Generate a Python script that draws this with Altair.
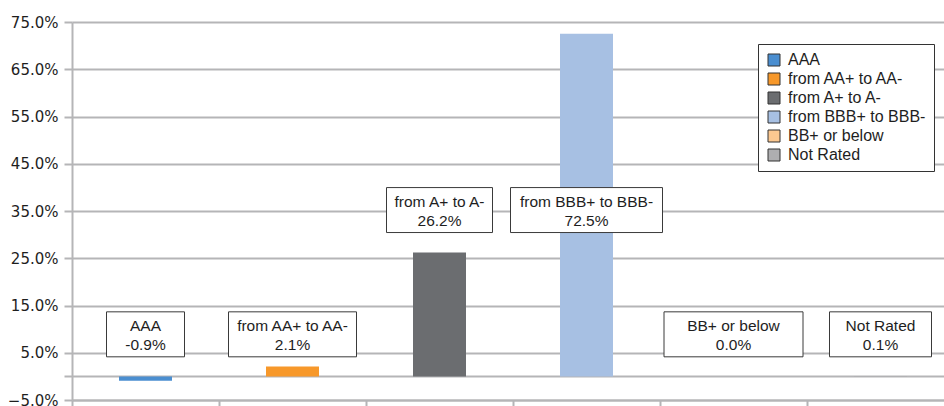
import altair as alt
import pandas as pd

# ---- data ----
categories = ["AAA", "from AA+ to AA-", "from A+ to A-", "from BBB+ to BBB-", "BB+ or below", "Not Rated"]
values = [-0.9, 2.1, 26.2, 72.5, 0.0, 0.1]
value_labels = ["-0.9%", "2.1%", "26.2%", "72.5%", "0.0%", "0.1%"]
y_tick_values = [-5, 0, 5, 15, 25, 35, 45, 55, 65, 75]

# ---- styles ----
colors = ["#4a8ed0", "#f7982a", "#6b6d70", "#a7c0e3", "#fcc890", "#aeaeb0"]
label_anchor = [8.9, 8.9, 35.2, 35.2, 8.9, 8.9]   # where the label boxes sit (y, in %)
box_widths = [78, 128, 106, 152, 139, 102]        # pixel widths of label boxes
box_half = 4.76                                    # half box height in % units
GRID = "#b5b5b7"
TXT = "#1e1e1e"
BOX_FONT = "Liberation Sans"
AXIS_FONT = "DejaVu Sans"

df = pd.DataFrame({
    "cat": categories,
    "value": values,
    "vlabel": value_labels,
    "ly": label_anchor,
})

xscale = alt.Scale(domain=categories, range=[0, 882], paddingInner=0, paddingOuter=0)
yscale = alt.Scale(domain=[-5, 75], nice=False, zero=False)

x_enc = alt.X("cat:N", scale=xscale, sort=categories,
              axis=alt.Axis(title=None, labels=False, tickBand="extent", ticks=True,
                            tickSize=7, tickColor=GRID, tickWidth=2,
                            domainColor=GRID, domainWidth=2, grid=False))

y_axis = alt.Axis(title=None, values=y_tick_values,
                  labelExpr="datum.value == 0 ? '' : format(datum.value, '.1f') + '%'",
                  labelFont=AXIS_FONT, labelFontSize=15, labelColor=TXT, labelPadding=6,
                  tickSize=8, tickColor=GRID, tickWidth=2,
                  domainColor=GRID, domainWidth=2,
                  grid=True, gridColor=GRID, gridWidth=2)

base = alt.Chart(df)

bars = base.mark_bar(width=53).encode(
    x=x_enc,
    y=alt.Y("value:Q", scale=yscale, axis=y_axis),
    y2=alt.datum(0),
    color=alt.Color("cat:N", sort=categories,
                    scale=alt.Scale(domain=categories, range=colors),
                    legend=alt.Legend(title=None, orient="none", legendX=686, legendY=22,
                                      fillColor="white", strokeColor="#333333",
                                      padding=8, symbolType="square", symbolSize=144,
                                      symbolStrokeColor="#333333", symbolStrokeWidth=1,
                                      symbolOpacity=1, labelFont=BOX_FONT, labelFontSize=16,
                                      labelColor=TXT, rowPadding=3, labelOffset=6,
                                      labelLimit=300)),
)

box_layers = []
for c, w in zip(categories, box_widths):
    box_layers.append(
        base.transform_filter(alt.datum.cat == c)
        .transform_calculate(b0=f"datum.ly - {box_half}", b1=f"datum.ly + {box_half}")
        .mark_bar(width=w, fill="white", stroke="#3a3a3a", strokeWidth=1)
        .encode(x=alt.X("cat:N", scale=xscale, sort=categories),
                y=alt.Y("b0:Q", scale=yscale), y2="b1:Q")
    )

text1 = base.mark_text(font=BOX_FONT, fontSize=15.5, color=TXT, dy=-8, baseline="middle").encode(
    x=alt.X("cat:N", scale=xscale, sort=categories),
    y=alt.Y("ly:Q", scale=yscale),
    text="cat:N",
)
text2 = base.mark_text(font=BOX_FONT, fontSize=15.5, color=TXT, dy=11, baseline="middle").encode(
    x=alt.X("cat:N", scale=xscale, sort=categories),
    y=alt.Y("ly:Q", scale=yscale),
    text="vlabel:N",
)

chart = alt.layer(bars, *box_layers, text1, text2).properties(
    width=872, height=378,
    autosize=alt.AutoSizeParams(type="none"),
    padding={"left": 72, "top": 22, "right": 0, "bottom": 6},
    background="white",
).configure_view(stroke=None)

chart.save("out.html", embed_options={"renderer": "svg", "actions": False})
